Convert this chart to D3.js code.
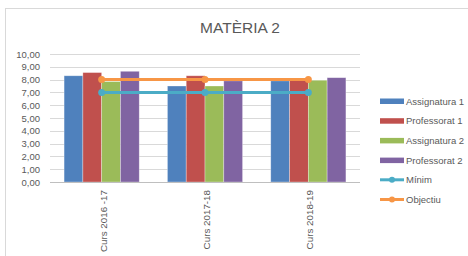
<!DOCTYPE html>
<html>
<head>
<meta charset="utf-8">
<script src="https://cdn.jsdelivr.net/npm/d3@7"></script>
<style>
  body { margin: 0; background: #fff; }
  svg { display: block; font-family: "Liberation Sans", Arial, sans-serif; }
</style>
</head>
<body>
<svg width="468" height="256"></svg>
<script>
//--Data
const categories = ["Curs 2016 -17", "Curs 2017-18", "Curs 2018-19"];
const barSeries = ["Assignatura 1", "Professorat 1", "Assignatura 2", "Professorat 2"];
const assignatura1 = [8.3, 7.5, 7.9];
const professorat1 = [8.55, 8.3, 8.1];
const assignatura2 = [7.85, 7.5, 7.95];
const professorat2 = [8.65, 7.9, 8.15];
const minim = [7, 7, 7];
const objectiu = [8, 8, 8];
const yTicks = [0, 1, 2, 3, 4, 5, 6, 7, 8, 9, 10];

const barColors = ["#4f81bd", "#c0504d", "#9bbb59", "#8064a2"];
const lineColors = { "Mínim": "#4bacc6", "Objectiu": "#f79646" };

//--Layout
const plot = { left: 50, right: 360, top: 54, bottom: 182 };
const textColor = "#595959";

let root = d3.select("svg");

//Chart border
root.append("rect")
  .attr("x", 5.5).attr("y", 8.5)
  .attr("width", 470).attr("height", 260)
  .attr("fill", "none")
  .attr("stroke", "#d9d9d9");

//Title
root.append("text")
  .attr("x", 240).attr("y", 33)
  .attr("text-anchor", "middle")
  .style("font-size", "15.5px")
  .style("fill", textColor)
  .text("MATÈRIA 2");

//Scales
let x = d3.scaleBand().domain(categories).range([plot.left, plot.right]);
let xInner = d3.scaleBand().domain(barSeries)
  .range([0, x.bandwidth()]).paddingOuter(0.75);
let y = d3.scaleLinear().domain([0, 10]).range([plot.bottom, plot.top]);

//Gridlines and y labels
root.append("g")
  .selectAll("line")
  .data(yTicks.slice(1))
  .enter()
  .append("line")
  .attr("x1", plot.left).attr("x2", plot.right)
  .attr("y1", d => Math.round(y(d)) + 0.5)
  .attr("y2", d => Math.round(y(d)) + 0.5)
  .attr("stroke", "#d9d9d9");

root.append("g")
  .selectAll("text")
  .data(yTicks)
  .enter()
  .append("text")
  .attr("x", 40)
  .attr("y", d => y(d) + 3.5)
  .attr("text-anchor", "end")
  .style("font-size", "9.5px")
  .style("fill", textColor)
  .text(d => d.toFixed(2).replace(".", ","));

//Bars
const barData = [assignatura1, professorat1, assignatura2, professorat2];
barData.forEach((vals, si) => {
  root.append("g")
    .selectAll("rect")
    .data(vals)
    .enter()
    .append("rect")
    .attr("x", (d, i) => x(categories[i]) + xInner(barSeries[si]))
    .attr("y", d => y(d))
    .attr("width", xInner.bandwidth())
    .attr("height", d => y(0) - y(d))
    .attr("fill", barColors[si])
    .attr("stroke", "#ffffff")
    .attr("stroke-opacity", 0.45)
    .attr("stroke-width", 0.7);
});

//Axis line
root.append("line")
  .attr("x1", plot.left).attr("x2", plot.right)
  .attr("y1", Math.round(y(0)) + 0.5).attr("y2", Math.round(y(0)) + 0.5)
  .attr("stroke", "#bfbfbf");

//Lines
const lineData = [["Mínim", minim], ["Objectiu", objectiu]];
const lineGen = d3.line()
  .x((d, i) => x(categories[i]) + x.bandwidth() / 2)
  .y(d => y(d));
lineData.forEach(([name, vals]) => {
  let g = root.append("g");
  g.append("path")
    .attr("d", lineGen(vals))
    .attr("fill", "none")
    .attr("stroke", lineColors[name])
    .attr("stroke-width", 3);
  g.selectAll("circle")
    .data(vals)
    .enter()
    .append("circle")
    .attr("cx", (d, i) => x(categories[i]) + x.bandwidth() / 2)
    .attr("cy", d => y(d))
    .attr("r", 3.5)
    .attr("fill", lineColors[name]);
});

//X labels (rotated)
root.append("g")
  .selectAll("text")
  .data(categories)
  .enter()
  .append("text")
  .attr("transform", d => "translate(" + (x(d) + x.bandwidth() / 2 + 5) + "," + 190 + ")rotate(-90)")
  .attr("text-anchor", "end")
  .style("font-size", "9.8px")
  .style("fill", textColor)
  .text(d => d);

//Legend
const legendItems = barSeries.concat(["Mínim", "Objectiu"]);
let legend = root.append("g");
legendItems.forEach((name, i) => {
  let ly = 101 + i * 19.7;
  let g = legend.append("g").attr("transform", "translate(380," + ly + ")");
  if (i < 4) {
    g.append("rect")
      .attr("x", 0).attr("y", -2.5)
      .attr("width", 24).attr("height", 5.5)
      .attr("fill", barColors[i]);
  } else {
    g.append("line")
      .attr("x1", 0).attr("x2", 24)
      .attr("y1", 0).attr("y2", 0)
      .attr("stroke", lineColors[name])
      .attr("stroke-width", 3);
    g.append("circle")
      .attr("cx", 12).attr("cy", 0).attr("r", 3)
      .attr("fill", lineColors[name]);
  }
  g.append("text")
    .attr("x", 26).attr("y", 3.5)
    .style("font-size", "9.5px")
    .style("fill", textColor)
    .text(name);
});
</script>
</body>
</html>
